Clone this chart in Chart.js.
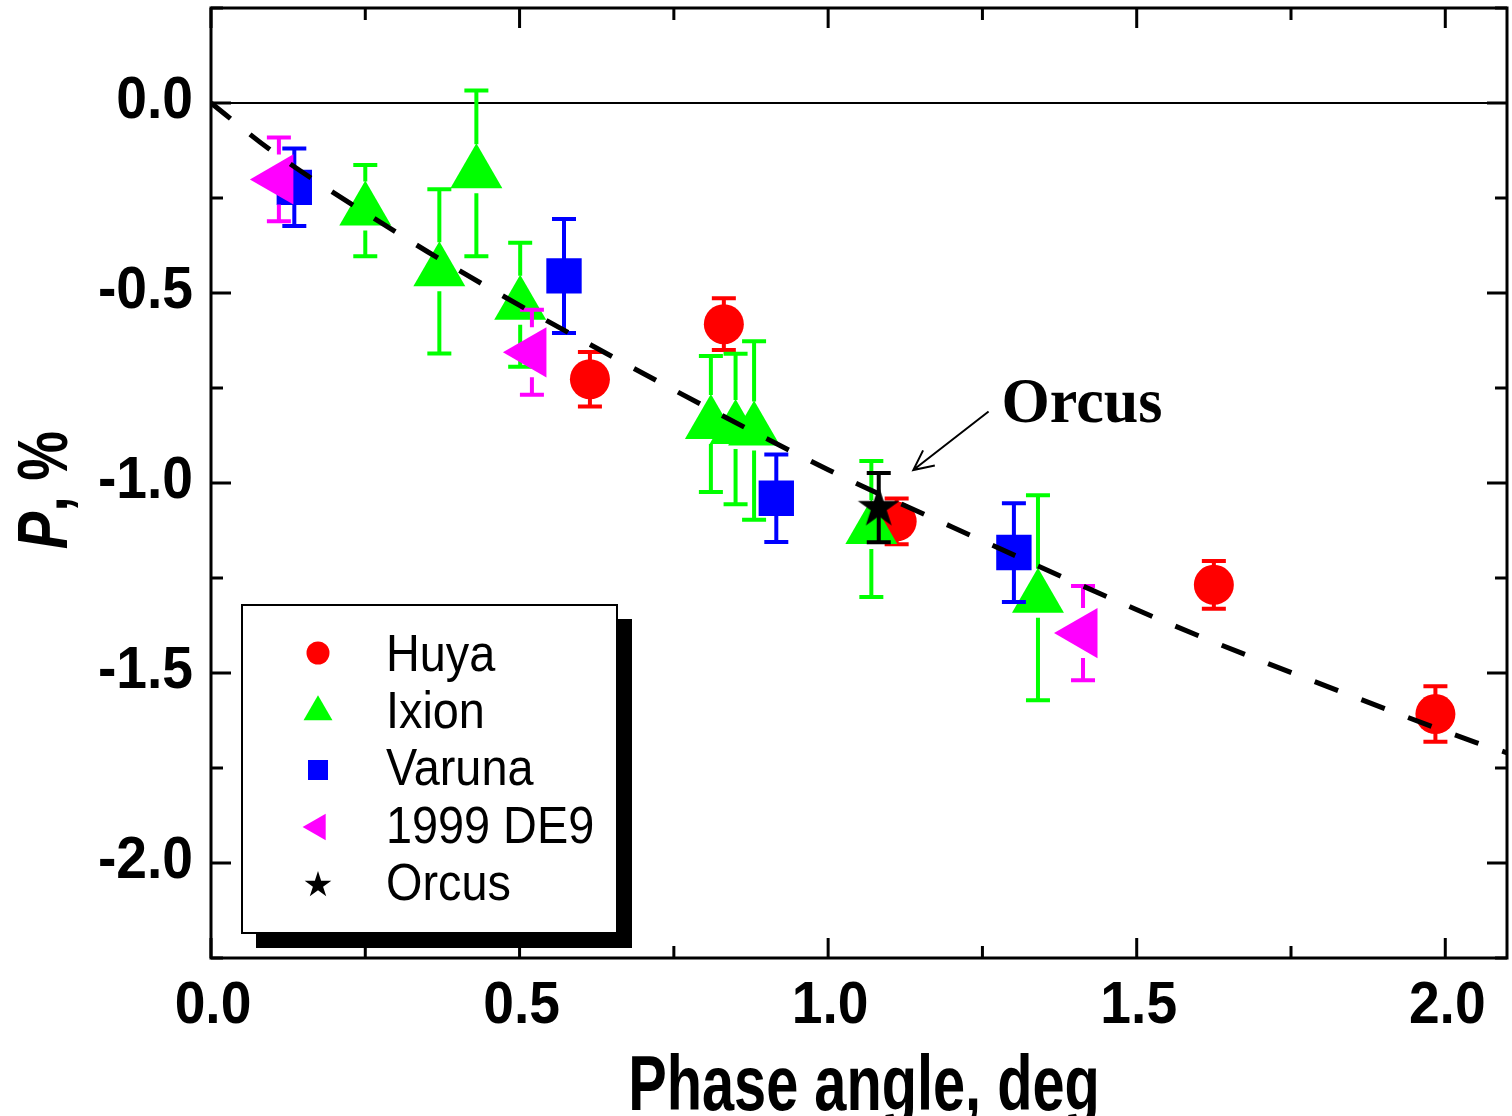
<!DOCTYPE html>
<html>
<head>
<meta charset="utf-8">
<script src="https://cdn.jsdelivr.net/npm/chart.js@4.4.0/dist/chart.umd.min.js"></script>
<style>
  html, body { margin: 0; padding: 0; background: #fff; }
  #grafico { display: block; }
</style>
</head>
<body>
<canvas id="grafico" width="1512" height="1116"></canvas>
<script>
/* ── DATOS ──────────────────────────────────────────────────── */
const huyaX  = [0.614, 0.831, 1.111, 1.625, 1.984];
const huyaY  = [-0.727, -0.582, -1.101, -1.268, -1.608];
const huyaE  = [0.072, 0.068, 0.060, 0.063, 0.073];

const ixionX = [0.250, 0.370, 0.430, 0.501, 0.810, 0.850, 0.880, 1.070, 1.340];
const ixionY = [-0.283, -0.443, -0.185, -0.531, -0.845, -0.858, -0.862, -1.121, -1.302];
const ixionE = [0.120, 0.216, 0.218, 0.163, 0.179, 0.198, 0.235, 0.179, 0.270];

const varunaX = [0.135, 0.572, 0.916, 1.301];
const varunaY = [-0.222, -0.455, -1.040, -1.183];
const varunaE = [0.102, 0.150, 0.115, 0.130];

const de9X = [0.110, 0.520, 1.413];
const de9Y = [-0.201, -0.656, -1.395];
const de9E = [0.110, 0.112, 0.124];

const orcusX = [1.082];
const orcusY = [-1.065];
const orcusE = [0.091];

// curva de ajuste (línea discontinua)
const ajusteX = [0, 0.1, 0.3, 0.37, 0.58, 1.0, 1.2, 1.56, 1.84, 2.05, 2.1];
const ajusteY = [0, -0.128, -0.34, -0.41, -0.605, -0.965, -1.115, -1.375, -1.555, -1.683, -1.71];

// ejes
const xTicksMayor = [0, 0.5, 1.0, 1.5, 2.0];
const xTicksMenor = [0.25, 0.75, 1.25, 1.75];
const xEtiquetas  = ['0.0', '0.5', '1.0', '1.5', '2.0'];
const yTicksMayor = [0, -0.5, -1.0, -1.5, -2.0];
const yTicksMenor = [0.25, -0.25, -0.75, -1.25, -1.75, -2.25];
const yEtiquetas  = ['0.0', '-0.5', '-1.0', '-1.5', '-2.0'];

const SANS  = '"Liberation Sans", Arial, sans-serif';
const SERIF = '"Liberation Serif", "Times New Roman", serif';

const puntos = (xs, ys) => xs.map((x, i) => ({ x, y: ys[i] }));

/* ── Estrella para Orcus ────────────────────────────────────── */
function trazarEstrella(ctx, cx, cy, R) {
  ctx.beginPath();
  for (let i = 0; i < 10; i++) {
    const r = i % 2 === 0 ? R : R * 0.382;
    const a = -Math.PI / 2 + i * Math.PI / 5;
    const px = cx + r * Math.cos(a), py = cy + r * Math.sin(a);
    if (i === 0) ctx.moveTo(px, py); else ctx.lineTo(px, py);
  }
  ctx.closePath();
  ctx.fill();
}
const imgEstrella = document.createElement('canvas');
imgEstrella.width = 46; imgEstrella.height = 46;
(() => {
  const c = imgEstrella.getContext('2d');
  c.fillStyle = '#000';
  trazarEstrella(c, 23, 23, 22);
})();

/* ── Símbolos de la leyenda ─────────────────────────────────── */
function dibujarSimbolo(ctx, tipo, x, y, color) {
  ctx.fillStyle = color;
  ctx.beginPath();
  if (tipo === 'circulo') {
    ctx.arc(x, y, 11.5, 0, Math.PI * 2);
  } else if (tipo === 'triangulo') {
    const r = 16.7;
    ctx.moveTo(x, y - r);
    ctx.lineTo(x + r * 0.866, y + r / 2);
    ctx.lineTo(x - r * 0.866, y + r / 2);
  } else if (tipo === 'cuadrado') {
    ctx.rect(x - 10, y - 10, 20, 20);
  } else if (tipo === 'izquierda') {
    const r = 15.4;
    ctx.moveTo(x - r, y);
    ctx.lineTo(x + r / 2, y - r * 0.866);
    ctx.lineTo(x + r / 2, y + r * 0.866);
  } else if (tipo === 'estrella') {
    trazarEstrella(ctx, x, y, 14);
    return;
  }
  ctx.closePath();
  ctx.fill();
}

function textoComprimido(ctx, txt, x, y, escala, align) {
  ctx.save();
  ctx.translate(x, y);
  ctx.scale(escala, 1);
  ctx.textAlign = align;
  ctx.textBaseline = 'alphabetic';
  ctx.fillText(txt, 0, 0);
  ctx.restore();
}

/* ── PLUGINS ────────────────────────────────────────────────── */
const lineaCero = {
  id: 'lineaCero',
  beforeDatasetsDraw(chart) {
    const { ctx, chartArea: a, scales: { y } } = chart;
    const py = y.getPixelForValue(0);
    ctx.save();
    ctx.strokeStyle = '#000';
    ctx.lineWidth = 2;
    ctx.beginPath();
    ctx.moveTo(a.left, py);
    ctx.lineTo(a.right, py);
    ctx.stroke();
    ctx.restore();
  }
};

const barrasError = {
  id: 'barrasError',
  beforeDatasetDraw(chart, args) {
    const ds = chart.data.datasets[args.index];
    if (!ds.err) return;
    const ctx = chart.ctx, yS = chart.scales.y;
    ctx.save();
    ctx.strokeStyle = ds.backgroundColor;
    ctx.lineWidth = 4;
    args.meta.data.forEach((pt, i) => {
      const v = ds.data[i].y, e = ds.err[i];
      const yTop = yS.getPixelForValue(v + e);
      const yBot = yS.getPixelForValue(v - e);
      const x = pt.x, y = pt.y;
      ctx.beginPath();
      if (y - ds.gapArriba > yTop) { ctx.moveTo(x, yTop); ctx.lineTo(x, y - ds.gapArriba); }
      if (y + ds.gapAbajo < yBot) { ctx.moveTo(x, y + ds.gapAbajo); ctx.lineTo(x, yBot); }
      ctx.moveTo(x - 12, yTop); ctx.lineTo(x + 12, yTop);
      ctx.moveTo(x - 12, yBot); ctx.lineTo(x + 12, yBot);
      ctx.stroke();
    });
    ctx.restore();
  }
};

const marcoEjes = {
  id: 'marcoEjes',
  afterDraw(chart) {
    const { ctx, chartArea: a, scales: { x, y } } = chart;
    ctx.save();
    ctx.strokeStyle = '#000';
    ctx.lineWidth = 3;
    ctx.strokeRect(a.left, a.top, a.right - a.left, a.bottom - a.top);

    ctx.beginPath();
    const tickX = (v, len) => {
      const px = x.getPixelForValue(v);
      ctx.moveTo(px, a.bottom); ctx.lineTo(px, a.bottom - len);
      ctx.moveTo(px, a.top);    ctx.lineTo(px, a.top + len);
    };
    const tickY = (v, len) => {
      const py = y.getPixelForValue(v);
      ctx.moveTo(a.left, py);  ctx.lineTo(a.left + len, py);
      ctx.moveTo(a.right, py); ctx.lineTo(a.right - len, py);
    };
    xTicksMayor.forEach(v => tickX(v, 20));
    xTicksMenor.forEach(v => tickX(v, 12));
    yTicksMayor.forEach(v => tickY(v, 20));
    yTicksMenor.forEach(v => tickY(v, 12));
    ctx.stroke();

    // etiquetas de los ticks
    ctx.fillStyle = '#000';
    ctx.font = 'bold 60px ' + SANS;
    xTicksMayor.forEach((v, i) => {
      textoComprimido(ctx, xEtiquetas[i], x.getPixelForValue(v) + 2, a.bottom + 65, 0.92, 'center');
    });
    yTicksMayor.forEach((v, i) => {
      textoComprimido(ctx, yEtiquetas[i], 193, y.getPixelForValue(v) + 15, 0.92, 'right');
    });

    // título eje X
    ctx.font = 'bold 78px ' + SANS;
    textoComprimido(ctx, 'Phase angle, deg', 864, 1110, 0.74, 'center');

    // título eje Y: "P" cursiva + ", %"
    ctx.save();
    ctx.translate(67, 490);
    ctx.rotate(-Math.PI / 2);
    ctx.scale(0.8, 1);
    ctx.textBaseline = 'alphabetic';
    ctx.textAlign = 'left';
    const fP = 'italic bold 70px ' + SANS, fR = 'bold 70px ' + SANS;
    ctx.font = fP; const wP = ctx.measureText('P').width;
    ctx.font = fR; const wR = ctx.measureText(', %').width;
    const x0 = -(wP + wR) / 2;
    ctx.font = fP; ctx.fillText('P', x0, 0);
    ctx.font = fR; ctx.fillText(', %', x0 + wP, 0);
    ctx.restore();

    // anotación Orcus con flecha
    const ax0 = x.getPixelForValue(1.260), ay0 = y.getPixelForValue(-0.812);
    const ax1 = x.getPixelForValue(1.138), ay1 = y.getPixelForValue(-0.966);
    ctx.lineWidth = 2;
    ctx.beginPath();
    ctx.moveTo(ax0, ay0); ctx.lineTo(ax1, ay1);
    const ang = Math.atan2(ay1 - ay0, ax1 - ax0);
    const hl = 22, hw = 0.45;
    ctx.moveTo(ax1 - hl * Math.cos(ang - hw), ay1 - hl * Math.sin(ang - hw));
    ctx.lineTo(ax1, ay1);
    ctx.lineTo(ax1 - hl * Math.cos(ang + hw), ay1 - hl * Math.sin(ang + hw));
    ctx.stroke();
    ctx.font = 'bold 64px ' + SERIF;
    textoComprimido(ctx, 'Orcus', x.getPixelForValue(1.281), y.getPixelForValue(-0.839), 0.97, 'left');

    // leyenda con sombra
    ctx.fillStyle = '#000';
    ctx.fillRect(256, 619, 376, 329);
    ctx.fillStyle = '#fff';
    ctx.fillRect(242, 605, 375, 328);
    ctx.lineWidth = 2;
    ctx.strokeRect(242, 605, 375, 328);
    const simbolos = ['circulo', 'triangulo', 'cuadrado', 'izquierda', 'estrella'];
    const centrosY = [653, 712, 770, 827, 885];
    const bases    = [671, 728, 785, 843, 900];
    chart.data.datasets.filter(d => d.err).forEach((d, i) => {
      dibujarSimbolo(ctx, simbolos[i], 318, centrosY[i], d.backgroundColor);
      ctx.fillStyle = '#000';
      ctx.font = '52px ' + SANS;
      textoComprimido(ctx, d.label, 386, bases[i], 0.9, 'left');
    });
    ctx.restore();
  }
};

/* ── GRÁFICO ────────────────────────────────────────────────── */
new Chart(document.getElementById('grafico'), {
  type: 'scatter',
  data: {
    datasets: [
      {
        label: 'Huya', data: puntos(huyaX, huyaY), err: huyaE,
        backgroundColor: '#ff0000', pointStyle: 'circle', pointRadius: 20,
        pointBorderWidth: 0, gapArriba: 19, gapAbajo: 19, order: 5
      },
      {
        label: 'Ixion', data: puntos(ixionX, ixionY), err: ixionE,
        backgroundColor: '#00ff00', pointStyle: 'triangle', pointRadius: 30,
        pointBorderWidth: 0, gapArriba: 29, gapAbajo: 20, order: 4
      },
      {
        label: 'Varuna', data: puntos(varunaX, varunaY), err: varunaE,
        backgroundColor: '#0000ff', pointStyle: 'rect', pointRadius: 25,
        pointBorderWidth: 0, gapArriba: 17, gapAbajo: 17, order: 3
      },
      {
        label: '1999 DE9', data: puntos(de9X, de9Y), err: de9E,
        backgroundColor: '#ff00ff', pointStyle: 'triangle', pointRotation: -90,
        pointRadius: 29, pointBorderWidth: 0, gapArriba: 25, gapAbajo: 25, order: 2
      },
      {
        label: 'Orcus', data: puntos(orcusX, orcusY), err: orcusE,
        backgroundColor: '#000000', pointStyle: imgEstrella, pointRadius: 22,
        pointBorderWidth: 0, gapArriba: 0, gapAbajo: 0, order: 1
      },
      {
        label: 'ajuste', data: puntos(ajusteX, ajusteY),
        showLine: true, borderColor: '#000', borderWidth: 5, borderDash: [25, 25],
        pointRadius: 0, cubicInterpolationMode: 'monotone', fill: false, order: 0
      }
    ]
  },
  options: {
    responsive: false,
    animation: false,
    events: [],
    layout: { autoPadding: false, padding: { top: 8, right: 5, left: 0, bottom: 0 } },
    plugins: { legend: { display: false }, tooltip: { enabled: false } },
    scales: {
      x: {
        type: 'linear', min: 0, max: 2.1,
        ticks: { display: false }, grid: { display: false }, border: { display: false },
        afterFit: s => { s.height = 158; }
      },
      y: {
        type: 'linear', min: -2.25, max: 0.25,
        ticks: { display: false }, grid: { display: false }, border: { display: false },
        afterFit: s => { s.width = 211; }
      }
    }
  },
  plugins: [lineaCero, barrasError, marcoEjes]
});
</script>
</body>
</html>
